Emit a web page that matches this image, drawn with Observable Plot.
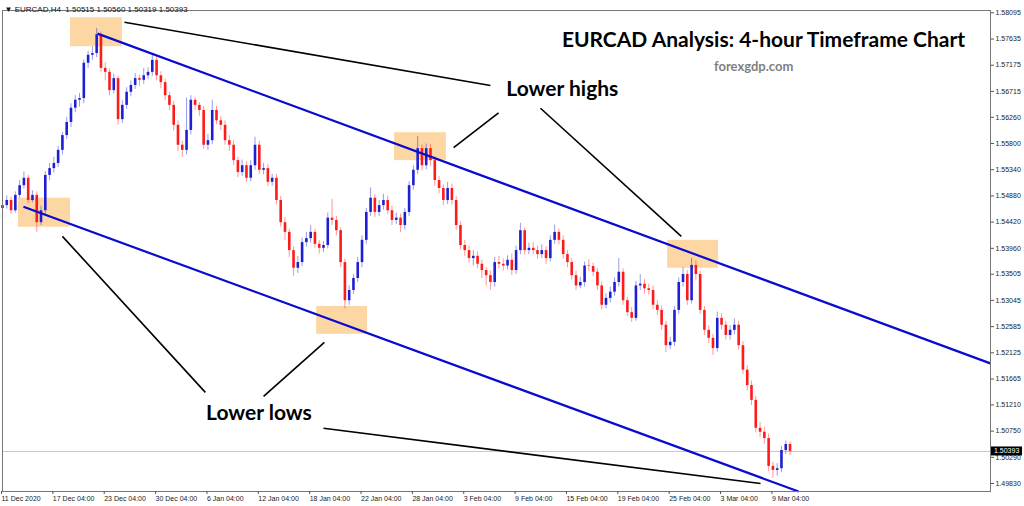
<!DOCTYPE html>
<html><head><meta charset="utf-8">
<script src="https://cdn.jsdelivr.net/npm/d3@7"></script>
<script src="https://cdn.jsdelivr.net/npm/@observablehq/plot@0.6"></script>
<style>body{margin:0;background:#fff;} #chart svg{display:block;}</style>
</head><body><div id="chart"></div>
<script>
const symbolName = "EURCAD,H4";
const opens = [
1.5466,1.5471,1.5480,1.5462,1.5489,1.5506,1.5519,1.5480,1.5489,1.5441,
1.5462,1.5524,1.5536,1.5545,1.5568,1.5594,1.5617,1.5642,1.5656,1.5659,
1.5721,1.5735,1.5738,1.5771,1.5712,1.5705,1.5673,1.5694,1.5622,1.5647,
1.5670,1.5682,1.5694,1.5691,1.5699,1.5705,1.5726,1.5699,1.5687,1.5664,
1.5647,1.5612,1.5577,1.5568,1.5603,1.5656,1.5647,1.5638,1.5577,1.5585,
1.5638,1.5620,1.5612,1.5585,1.5577,1.5550,1.5529,1.5541,1.5519,1.5541,
1.5577,1.5533,1.5536,1.5512,1.5519,1.5480,1.5441,1.5424,1.5392,1.5361,
1.5371,1.5406,1.5413,1.5424,1.5403,1.5396,1.5401,1.5449,1.5445,1.5427,
1.5371,1.5304,1.5322,1.5343,1.5371,1.5410,1.5459,1.5484,1.5459,1.5471,
1.5480,1.5462,1.5445,1.5449,1.5436,1.5459,1.5506,1.5533,1.5571,1.5541,
1.5571,1.5550,1.5515,1.5501,1.5480,1.5501,1.5480,1.5436,1.5401,1.5392,
1.5378,1.5382,1.5368,1.5357,1.5348,1.5336,1.5371,1.5368,1.5365,1.5375,
1.5357,1.5392,1.5427,1.5392,1.5396,1.5392,1.5385,1.5392,1.5378,1.5410,
1.5424,1.5410,1.5385,1.5371,1.5348,1.5330,1.5336,1.5365,1.5364,1.5354,
1.5330,1.5296,1.5308,1.5319,1.5336,1.5354,1.5304,1.5283,1.5273,1.5330,
1.5333,1.5325,1.5322,1.5296,1.5287,1.5261,1.5225,1.5231,1.5287,1.5336,
1.5350,1.5304,1.5366,1.5350,1.5287,1.5252,1.5238,1.5220,1.5273,1.5261,
1.5243,1.5252,1.5261,1.5225,1.5182,1.5155,1.5129,1.5080,1.5073,1.5062,
1.5013,1.5006,1.5009,1.5041,1.50515];
const highs = [
1.5479,1.5488,1.5486,1.5495,1.5515,1.5530,1.5524,1.5497,1.5495,1.5470,
1.5531,1.5545,1.5556,1.5575,1.5600,1.5626,1.5650,1.5664,1.5668,1.5727,
1.5742,1.5750,1.5782,1.5776,1.5722,1.5711,1.5702,1.5698,1.5655,1.5678,
1.5690,1.5703,1.5700,1.5712,1.5713,1.5738,1.5731,1.5706,1.5693,1.5670,
1.5654,1.5620,1.5584,1.5660,1.5664,1.5660,1.5652,1.5645,1.5596,1.5656,
1.5645,1.5628,1.5620,1.5594,1.5585,1.5556,1.5551,1.5548,1.5550,1.5591,
1.5584,1.5545,1.5543,1.5526,1.5526,1.5487,1.5450,1.5430,1.5398,1.5382,
1.5414,1.5424,1.5436,1.5430,1.5410,1.5408,1.5458,1.5482,1.5452,1.5432,
1.5377,1.5330,1.5350,1.5380,1.5418,1.5466,1.5502,1.5490,1.5480,1.5491,
1.5488,1.5470,1.5458,1.5456,1.5466,1.5513,1.5541,1.5592,1.5578,1.5579,
1.5578,1.5557,1.5522,1.5507,1.5512,1.5509,1.5487,1.5443,1.5410,1.5400,
1.5392,1.5390,1.5375,1.5362,1.5356,1.5380,1.5382,1.5377,1.5383,1.5386,
1.5400,1.5440,1.5432,1.5405,1.5406,1.5400,1.5402,1.5399,1.5418,1.5437,
1.5430,1.5418,1.5392,1.5378,1.5356,1.5345,1.5372,1.5376,1.5370,1.5361,
1.5337,1.5316,1.5328,1.5344,1.5378,1.5360,1.5310,1.5292,1.5338,1.5350,
1.5341,1.5333,1.5330,1.5304,1.5295,1.5268,1.5240,1.5294,1.5344,1.5362,
1.5357,1.5378,1.5374,1.5356,1.5294,1.5260,1.5245,1.5284,1.5281,1.5268,
1.5260,1.5272,1.5268,1.5232,1.5190,1.5163,1.5136,1.5090,1.5082,1.5070,
1.5020,1.5018,1.5048,1.5058,1.50560];
const lows = [
1.5458,1.5465,1.5455,1.5458,1.5484,1.5500,1.5474,1.5476,1.5424,1.5436,
1.5455,1.5515,1.5528,1.5538,1.5560,1.5587,1.5608,1.5634,1.5644,1.5650,
1.5712,1.5726,1.5731,1.5705,1.5690,1.5664,1.5667,1.5612,1.5615,1.5640,
1.5662,1.5675,1.5680,1.5684,1.5692,1.5698,1.5690,1.5676,1.5655,1.5638,
1.5602,1.5566,1.5556,1.5560,1.5595,1.5638,1.5628,1.5570,1.5568,1.5578,
1.5613,1.5603,1.5577,1.5566,1.5541,1.5520,1.5522,1.5512,1.5513,1.5533,
1.5526,1.5525,1.5505,1.5505,1.5472,1.5433,1.5410,1.5380,1.5347,1.5352,
1.5364,1.5398,1.5405,1.5396,1.5386,1.5389,1.5395,1.5436,1.5418,1.5362,
1.5290,1.5296,1.5315,1.5336,1.5362,1.5403,1.5452,1.5450,1.5452,1.5463,
1.5455,1.5436,1.5438,1.5424,1.5428,1.5452,1.5498,1.5526,1.5532,1.5534,
1.5540,1.5505,1.5492,1.5471,1.5473,1.5472,1.5428,1.5393,1.5382,1.5370,
1.5365,1.5360,1.5343,1.5330,1.5322,1.5328,1.5360,1.5356,1.5358,1.5348,
1.5350,1.5385,1.5384,1.5385,1.5384,1.5377,1.5378,1.5368,1.5372,1.5403,
1.5402,1.5377,1.5362,1.5340,1.5322,1.5325,1.5328,1.5355,1.5346,1.5322,
1.5288,1.5290,1.5300,1.5312,1.5328,1.5296,1.5276,1.5266,1.5268,1.5322,
1.5316,1.5314,1.5288,1.5278,1.5252,1.5213,1.5218,1.5224,1.5280,1.5328,
1.5296,1.5298,1.5340,1.5280,1.5243,1.5229,1.5208,1.5214,1.5252,1.5235,
1.5235,1.5244,1.5217,1.5174,1.5146,1.5120,1.5072,1.5064,1.5052,1.5004,
1.4992,1.4996,1.5002,1.5034,1.50319];
const closes = [
1.5471,1.5480,1.5462,1.5489,1.5506,1.5519,1.5480,1.5489,1.5441,1.5462,
1.5524,1.5536,1.5545,1.5568,1.5594,1.5617,1.5642,1.5656,1.5659,1.5721,
1.5735,1.5738,1.5771,1.5712,1.5705,1.5673,1.5694,1.5622,1.5647,1.5670,
1.5682,1.5694,1.5691,1.5699,1.5705,1.5726,1.5699,1.5687,1.5664,1.5647,
1.5612,1.5577,1.5568,1.5603,1.5656,1.5647,1.5638,1.5577,1.5585,1.5638,
1.5620,1.5612,1.5585,1.5577,1.5550,1.5529,1.5541,1.5519,1.5541,1.5577,
1.5533,1.5536,1.5512,1.5519,1.5480,1.5441,1.5424,1.5392,1.5361,1.5371,
1.5406,1.5413,1.5424,1.5403,1.5396,1.5401,1.5449,1.5445,1.5427,1.5371,
1.5304,1.5322,1.5343,1.5371,1.5410,1.5459,1.5484,1.5459,1.5471,1.5480,
1.5462,1.5445,1.5449,1.5436,1.5459,1.5506,1.5533,1.5571,1.5541,1.5571,
1.5550,1.5515,1.5501,1.5480,1.5501,1.5480,1.5436,1.5401,1.5392,1.5378,
1.5382,1.5368,1.5357,1.5348,1.5336,1.5371,1.5368,1.5365,1.5375,1.5357,
1.5392,1.5427,1.5392,1.5396,1.5392,1.5385,1.5392,1.5378,1.5410,1.5424,
1.5410,1.5385,1.5371,1.5348,1.5330,1.5336,1.5365,1.5364,1.5354,1.5330,
1.5296,1.5308,1.5319,1.5336,1.5354,1.5304,1.5283,1.5273,1.5330,1.5333,
1.5325,1.5322,1.5296,1.5287,1.5261,1.5225,1.5231,1.5287,1.5336,1.5350,
1.5304,1.5366,1.5350,1.5287,1.5252,1.5238,1.5220,1.5273,1.5261,1.5243,
1.5252,1.5261,1.5225,1.5182,1.5155,1.5129,1.5080,1.5073,1.5062,1.5013,
1.5006,1.5009,1.5041,1.50515,1.50393];

const xTickIndex = [0,12,24,36,48,60,72,84,96,108,120,132,144,156,168,180];
const xTickLabels = ["11 Dec 2020","17 Dec 04:00","23 Dec 04:00","30 Dec 04:00","6 Jan 04:00","12 Jan 04:00","18 Jan 04:00","22 Jan 04:00","28 Jan 04:00","3 Feb 04:00","9 Feb 04:00","15 Feb 04:00","19 Feb 04:00","25 Feb 04:00","3 Mar 04:00","9 Mar 04:00"];
const yTickValues = [1.58095,1.57635,1.57175,1.56715,1.56260,1.55800,1.55340,1.54880,1.54420,1.53960,1.53505,1.53045,1.52585,1.52125,1.51665,1.51210,1.50750,1.50290,1.49830];

// channel lines (bar index, price)
const channelLines = [
  {x1: 22.2, y1: 1.5773, x2: 230.8, y2: 1.5194},
  {x1: 4.9,  y1: 1.5469, x2: 186.0, y2: 1.4969}
];
// highlighted swing points (bar index range, price range)
const swingBoxes = [
  {x1: 15.9, x2: 28.0, y1: 1.5750, y2: 1.5801},
  {x1: 3.7,  x2: 15.9, y1: 1.5433, y2: 1.5484},
  {x1: 91.6, x2: 103.7, y1: 1.5550, y2: 1.5599},
  {x1: 73.4, x2: 85.3, y1: 1.5245, y2: 1.5294},
  {x1: 155.4, x2: 167.3, y1: 1.5361, y2: 1.5410}
];
// pointer lines from labels to swings
const pointerLines = [
  {x1: 28.5, y1: 1.5793, x2: 114.0, y2: 1.5682},
  {x1: 105.4, y1: 1.5573, x2: 115.9, y2: 1.5634},
  {x1: 125.7, y1: 1.5642, x2: 158.6, y2: 1.5417},
  {x1: 14.0, y1: 1.5417, x2: 47.4, y2: 1.5143},
  {x1: 75.2, y1: 1.5231, x2: 61.0, y2: 1.5136},
  {x1: 75.0, y1: 1.5080, x2: 177.1, y2: 1.4983}
];
const annotations = [
  {x: 177.8, y: 1.5761, text: "EURCAD Analysis: 4-hour Timeframe Chart", size: 21, fill: "#000"},
  {x: 175.5, y: 1.5715, text: "forexgdp.com", size: 13, fill: "#7f7f7f"},
  {x: 130.8, y: 1.5675, text: "Lower highs", size: 21, fill: "#000"},
  {x: 59.9,  y: 1.5106, text: "Lower lows", size: 21, fill: "#000"}
];

const candles = closes.map((c, i) => ({i, open: opens[i], high: highs[i], low: lows[i], close: c, up: c >= opens[i]}));
const last = candles[candles.length - 1];
const f5 = d3.format(".5f");
const bull = "#1e1ed2", bear = "#ff1a1a";

const chart = Plot.plot({
  width: 1024, height: 506,
  marginLeft: 2, marginRight: 34, marginTop: 10, marginBottom: 15,
  style: {fontFamily: "'Liberation Sans', Arial, sans-serif", background: "#fff"},
  x: {domain: [0, 230.84], axis: null},
  y: {domain: [1.49690, 1.58136], axis: null},
  marks: [
    Plot.rect(swingBoxes, {x1: "x1", x2: "x2", y1: "y1", y2: "y2", fill: "#fcd7a3"}),
    Plot.ruleY([last.close], {stroke: "#c4c8cc", strokeWidth: 1}),
    Plot.ruleX(candles, {x: "i", y1: "low", y2: "high", stroke: d => d.up ? bull : bear, strokeOpacity: 0.45, strokeWidth: 1}),
    Plot.ruleX(candles, {x: "i", y1: "open", y2: d => Math.abs(d.close - d.open) < 0.00003 ? d.open + 0.00004 : d.close, stroke: d => d.up ? bull : bear, strokeWidth: 2.6}),
    Plot.link(channelLines, {x1: "x1", y1: "y1", x2: "x2", y2: "y2", stroke: "#0a0ad0", strokeWidth: 2.2}),
    Plot.link(pointerLines, {x1: "x1", y1: "y1", x2: "x2", y2: "y2", stroke: "#000", strokeWidth: 1.6}),
    Plot.text(annotations, {x: "x", y: "y", text: "text", fontSize: d => d.size, fill: "fill", fontWeight: "bold", fontFamily: "Lato, 'Open Sans', sans-serif"}),
    Plot.frame({stroke: "#777", strokeWidth: 1}),
    Plot.axisX(xTickIndex, {tickFormat: (d, i) => xTickLabels[i], tickSize: 3, tickPadding: 2, textAnchor: "start", dx: -1, fontSize: 7, fill: "#222", stroke: "#555"}),
    Plot.axisY(yTickValues, {anchor: "right", tickFormat: f5, tickSize: 3, tickPadding: 2, fontSize: 7, fill: "#222", stroke: "#555"}),
    Plot.text([`\u25BC ${symbolName}  ${f5(last.open)} ${f5(last.high)} ${f5(last.low)} ${f5(last.close)}`], {frameAnchor: "top-left", dx: 2, dy: -4, textAnchor: "start", fontSize: 8, fill: "#111"}),
    (index, scales, values, dims) => {
      const g = d3.create("svg:g");
      const yy = scales.y(last.close);
      const x0 = dims.width - dims.marginRight + 1;
      g.append("rect").attr("x", x0).attr("y", yy - 4.5).attr("width", 31).attr("height", 9).attr("fill", "#000");
      g.append("text").attr("x", x0 + 3).attr("y", yy).attr("dy", "0.35em").attr("fill", "#fff")
        .attr("text-anchor", "start").attr("font-size", 7)
        .attr("font-family", "'Liberation Sans', Arial, sans-serif").text(f5(last.close));
      return g.node();
    }
  ]
});
document.getElementById("chart").appendChild(chart);
</script>
</body></html>
